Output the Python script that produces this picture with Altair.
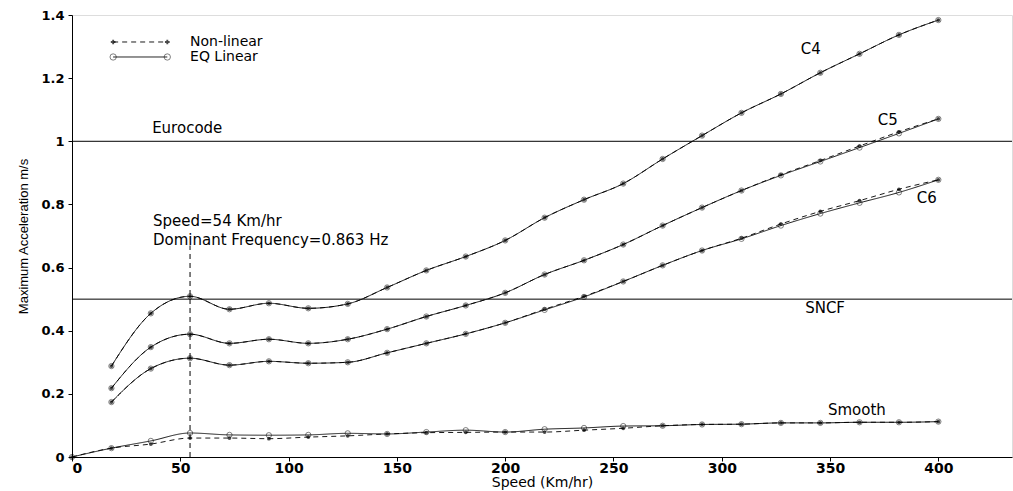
import altair as alt
import pandas as pd

speeds = [18.2, 36.4, 54.5, 72.7, 90.9, 109.1, 127.3, 145.5, 163.6, 181.8, 200.0,
          218.2, 236.4, 254.5, 272.7, 290.9, 309.1, 327.3, 345.5, 363.6, 381.8, 400.0]

c4_nl = [0.288, 0.455, 0.509, 0.468, 0.487, 0.471, 0.485, 0.537, 0.591, 0.635, 0.686,
         0.758, 0.815, 0.866, 0.944, 1.018, 1.090, 1.150, 1.217, 1.277, 1.337, 1.384]
c4_eq = [0.288, 0.455, 0.509, 0.468, 0.487, 0.471, 0.485, 0.537, 0.591, 0.635, 0.686,
         0.758, 0.815, 0.866, 0.944, 1.018, 1.090, 1.150, 1.217, 1.277, 1.337, 1.384]
c5_nl = [0.218, 0.348, 0.389, 0.360, 0.373, 0.360, 0.373, 0.405, 0.445, 0.480, 0.520,
         0.578, 0.623, 0.673, 0.733, 0.790, 0.844, 0.894, 0.939, 0.985, 1.030, 1.071]
c5_eq = [0.218, 0.348, 0.389, 0.360, 0.373, 0.360, 0.373, 0.405, 0.445, 0.480, 0.520,
         0.578, 0.623, 0.673, 0.733, 0.790, 0.844, 0.892, 0.936, 0.980, 1.025, 1.071]
c6_nl = [0.174, 0.280, 0.313, 0.291, 0.303, 0.297, 0.300, 0.330, 0.360, 0.390, 0.425,
         0.468, 0.509, 0.556, 0.607, 0.654, 0.693, 0.738, 0.778, 0.812, 0.848, 0.878]
c6_eq = [0.174, 0.280, 0.313, 0.291, 0.303, 0.297, 0.300, 0.330, 0.360, 0.390, 0.425,
         0.466, 0.507, 0.556, 0.607, 0.654, 0.691, 0.733, 0.771, 0.805, 0.838, 0.878]

smooth_speeds = [0.0] + speeds
smooth_nl = [0.0, 0.028, 0.041, 0.060, 0.060, 0.058, 0.063, 0.067, 0.073, 0.077, 0.078,
             0.079, 0.079, 0.085, 0.091, 0.099, 0.103, 0.104, 0.108, 0.108, 0.110, 0.110, 0.112]
smooth_eq = [0.0, 0.028, 0.051, 0.076, 0.070, 0.069, 0.070, 0.075, 0.073, 0.079, 0.085,
             0.079, 0.088, 0.092, 0.098, 0.099, 0.103, 0.104, 0.108, 0.108, 0.110, 0.110, 0.112]

type_names = ["Non-linear", "EQ Linear"]

rows = []
for name, nl, eq, xs in [("C4", c4_nl, c4_eq, speeds), ("C5", c5_nl, c5_eq, speeds),
                         ("C6", c6_nl, c6_eq, speeds), ("Smooth", smooth_nl, smooth_eq, smooth_speeds)]:
    for s, v in zip(xs, nl):
        rows.append({"speed": s, "acc": v, "curve": name, "type": "Non-linear"})
    for s, v in zip(xs, eq):
        rows.append({"speed": s, "acc": v, "curve": name, "type": "EQ Linear"})
df = pd.DataFrame(rows)

label_text = ["C4", "C5", "C6", "Smooth", "Eurocode", "SNCF"]
label_x = [336.5, 372.0, 390.0, 349.0, 37.0, 338.5]
label_y = [1.293, 1.067, 0.820, 0.149, 1.042, 0.472]
labels = pd.DataFrame({"text": label_text, "speed": label_x, "acc": label_y})

note_lines = ["Speed=54 Km/hr", "Dominant Frequency=0.863 Hz"]
note = pd.DataFrame({"text": note_lines, "speed": [37.4, 37.4], "acc": [0.748, 0.687]})

limits = pd.DataFrame({"acc": [1.0, 0.5]})
dominant = pd.DataFrame({"speed": [54.5], "acc": [0.0], "acc2": [0.67]})

# hand-drawn legend (sample line from x0 to x1, label at xt)
legend_df = pd.DataFrame({"type": type_names, "x0": [19.0, 19.0], "x1": [44.0, 44.0],
                          "xt": [54.5, 54.5], "acc": [1.3145, 1.267]})

FONT = "Liberation Sans"
TFONT = "DejaVu Sans"
xs = alt.Scale(domain=[0, 434], nice=False)
ys = alt.Scale(domain=[0, 1.4], nice=False)
dash = alt.StrokeDash("type:N", scale=alt.Scale(domain=type_names, range=[[5, 4], [1, 0]]), legend=None)

x_enc = alt.X("speed:Q", scale=xs, axis=alt.Axis(
    title="Speed (Km/hr)", values=[0, 50, 100, 150, 200, 250, 300, 350, 400],
    grid=False, tickSize=4, labelFontSize=14, labelFontWeight="bold", labelFont=TFONT,
    titleFont=TFONT, titleFontSize=14, titleFontWeight="normal", labelPadding=0,
    titlePadding=0, domainColor="black", tickColor="black", labelColor="black",
    titleColor="black"))
y_enc = alt.Y("acc:Q", scale=ys, axis=alt.Axis(
    title="Maximum Acceleration m/s", values=[0, 0.2, 0.4, 0.6, 0.8, 1.0, 1.2, 1.4],
    format="~f", grid=False, tickSize=4, labelFontSize=13, labelFontWeight="bold",
    labelFont=TFONT, titleFont=FONT, titleFontSize=13, titleFontWeight="normal",
    labelPadding=4, titlePadding=10, domainColor="black", tickColor="black",
    labelColor="black", titleColor="black"))

lines = alt.Chart(df).mark_line(color="black", strokeWidth=0.9, interpolate="monotone").encode(
    x=x_enc, y=y_enc, detail="curve:N", strokeDash=dash)

nl_pts = alt.Chart(df[df["type"] == "Non-linear"]).mark_point(
    shape="circle", filled=True, color="black", size=14).encode(x="speed:Q", y="acc:Q")
eq_pts = alt.Chart(df[df["type"] == "EQ Linear"]).mark_point(
    shape="circle", filled=False, color="black", size=28, strokeWidth=0.7).encode(x="speed:Q", y="acc:Q")

limit_rules = alt.Chart(limits).mark_rule(color="black", strokeWidth=1).encode(y="acc:Q")
dom_rule = alt.Chart(dominant).mark_rule(color="black", strokeWidth=1, strokeDash=[5, 4]).encode(
    x="speed:Q", y="acc:Q", y2="acc2:Q")

label_marks = alt.Chart(labels).mark_text(font=TFONT, fontSize=15, color="black", align="left").encode(
    x="speed:Q", y="acc:Q", text="text:N")
note_marks = alt.Chart(note).mark_text(font=TFONT, fontSize=15, color="black", align="left").encode(
    x="speed:Q", y="acc:Q", text="text:N")

leg_line = alt.Chart(legend_df).mark_rule(color="black", strokeWidth=0.9).encode(
    x="x0:Q", x2="x1:Q", y="acc:Q", strokeDash=dash)
leg_nl_a = alt.Chart(legend_df[legend_df["type"] == "Non-linear"]).mark_point(
    shape="cross", filled=True, color="black", size=22).encode(x="x0:Q", y="acc:Q")
leg_nl_b = alt.Chart(legend_df[legend_df["type"] == "Non-linear"]).mark_point(
    shape="cross", filled=True, color="black", size=22).encode(x="x1:Q", y="acc:Q")
leg_eq_a = alt.Chart(legend_df[legend_df["type"] == "EQ Linear"]).mark_point(
    shape="circle", filled=False, color="black", size=40, strokeWidth=0.7).encode(x="x0:Q", y="acc:Q")
leg_eq_b = alt.Chart(legend_df[legend_df["type"] == "EQ Linear"]).mark_point(
    shape="circle", filled=False, color="black", size=40, strokeWidth=0.7).encode(x="x1:Q", y="acc:Q")
leg_text = alt.Chart(legend_df).mark_text(font=TFONT, fontSize=14, color="black", align="left").encode(
    x="xt:Q", y="acc:Q", text="type:N")

chart = alt.layer(limit_rules, dom_rule, lines, eq_pts, nl_pts, label_marks, note_marks,
                  leg_line, leg_nl_a, leg_nl_b, leg_eq_a, leg_eq_b, leg_text).properties(
    width=940, height=442,
    autosize=alt.AutoSizeParams(type="none"),
    padding={"left": 72, "top": 15, "right": 1, "bottom": 34},
).configure_view(stroke="black", strokeWidth=1).configure(background="white")

chart.save("out.html", embed_options={"renderer": "svg", "actions": False})
